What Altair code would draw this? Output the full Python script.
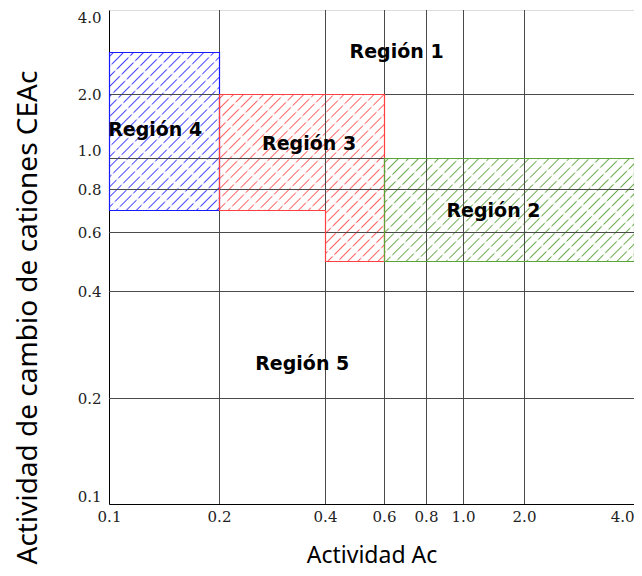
import math
import altair as alt
import numpy as np
import pandas as pd

# ---------------- data ----------------
x_ticks = [0.1, 0.2, 0.4, 0.6, 0.8, 1.0, 2.0, 4.0]
y_ticks = [0.1, 0.2, 0.4, 0.6, 0.8, 1.0, 2.0, 4.0]

# Región 4 (blue)
r4_x = [0.1, 0.2]
r4_top = [3.0, 3.0]
r4_bottom = [0.7, 0.7]
# Región 3 (red, stepped)
r3_x = [0.2, 0.4, 0.6]
r3_top = [2.0, 2.0, 2.0]
r3_bottom = [0.7, 0.5, 0.5]
# Región 2 (green)
r2_x = [0.6, 4.0]
r2_top = [1.0, 1.0]
r2_bottom = [0.5, 0.5]

label_names = ["Región 1", "Región 2", "Región 3", "Región 4", "Región 5"]
label_x = [0.66, 1.5, 0.37, 0.142, 0.357]
label_y = [3.0, 0.7, 1.22, 1.44, 0.264]

# ---------------- styling ----------------
W, H = 525, 494
X_RANGE = [0, 110, 216, 275, 317, 354, 415, 525]
Y_RANGE = [494, 388, 281, 222, 179, 148, 84, 0]

x_scale = alt.Scale(type="linear", domain=x_ticks, range=X_RANGE, nice=False, zero=False)
y_scale = alt.Scale(type="linear", domain=y_ticks, range=Y_RANGE, nice=False, zero=False)

x_axis = alt.Axis(
    values=x_ticks, format=".1f", title="Actividad Ac", grid=False, ticks=False, tickSize=0,
    labelFont="DejaVu Serif", labelFontSize=15, labelColor="#222222", labelPadding=5,
    labelAlign={"expr": "datum.value >= 4 ? 'right' : 'center'"}, labelOverlap=False,
    domainColor="black", titleFont="Noto Sans", titleFontSize=23, titleFontWeight="normal",
    titleColor="black", titleY=58, titleBaseline="alphabetic",
)
y_axis = alt.Axis(
    values=y_ticks, format=".1f", title="Actividad de cambio de cationes  CEAc", grid=False,
    ticks=False, tickSize=0, labelFont="DejaVu Serif", labelFontSize=15, labelColor="#222222",
    labelPadding=8, labelOverlap=False, domainColor="black",
    labelBaseline={"expr": "datum.value >= 4 ? 'top' : (datum.value <= 0.1 || datum.value == 1) ? 'bottom' : 'middle'"},
    titleFont="Noto Sans", titleFontSize=28, titleFontWeight="normal", titleColor="black",
    titleAngle=270, titleX=-73, titleY=307, titleAlign="center", titleBaseline="alphabetic",
)


def xenc(field):
    return alt.X(field, type="quantitative", scale=x_scale, axis=x_axis)


def yenc(field):
    return alt.Y(field, type="quantitative", scale=y_scale, axis=y_axis)


def px(v):
    return float(np.interp(v, x_ticks, X_RANGE))


def py(v):
    return float(np.interp(v, y_ticks, Y_RANGE))


def stripes(w, h, color, bg, period, lw, back=False):
    # soft-edged stripes: 3 stops per stripe, no coincident offsets
    diag = (w + h) / math.sqrt(2)
    s = (w * w + h * h)
    a = w * (w + h) / s
    b = h * (w + h) / s
    stops = [{"offset": 0, "color": bg}]
    o = period * 0.35 / diag
    while o + lw / diag < 1:
        stops += [
            {"offset": round(o, 5), "color": bg},
            {"offset": round(o + 0.5 * lw / diag, 5), "color": color},
            {"offset": round(o + lw / diag, 5), "color": bg},
        ]
        o += period / diag
    stops.append({"offset": 1, "color": bg})
    if back:
        return {"gradient": "linear", "x1": 0, "y1": 1, "x2": round(a, 4), "y2": round(1 - b, 4), "stops": stops}
    return {"gradient": "linear", "x1": 0, "y1": 0, "x2": round(a, 4), "y2": round(b, 4), "stops": stops}


def region_layers(xs, tops, bottoms, hatch_color, line_color):
    df = pd.DataFrame({"x": xs, "top": tops, "bottom": bottoms})
    w = px(max(xs)) - px(min(xs))
    h = py(min(bottoms)) - py(max(tops))
    enc = dict(x=xenc("x"), y=yenc("top"), y2="bottom")
    fill = alt.Chart(df).mark_area(
        interpolate="step-after", fill=stripes(w, h, hatch_color, "#ffffff", 7.1, 2.0)
    ).encode(**enc)
    gaps = alt.Chart(df).mark_area(
        interpolate="step-after",
        fill=stripes(w, h, "#ffffff", "rgba(255,255,255,0)", 19, 5.0, back=True)
    ).encode(**enc)
    outline = alt.Chart(df).mark_area(
        interpolate="step-after", fillOpacity=0, stroke=line_color, strokeWidth=1.2,
        xOffset=0.5, yOffset=0.5,
    ).encode(**enc)
    return [fill, gaps], outline


b_fill, b_out = region_layers(r4_x, r4_top, r4_bottom, "#4646ff", "#1a1aff")
r_fill, r_out = region_layers(r3_x, r3_top, r3_bottom, "#ff6464", "#ff4040")
g_fill, g_out = region_layers(r2_x, r2_top, r2_bottom, "#6dac52", "#5aa53a")

grid_x = alt.Chart(pd.DataFrame({"gx": x_ticks[1:-1]})).mark_rule(
    color="#4a4a4a", strokeWidth=1, xOffset=0.5
).encode(x=xenc("gx"))
grid_y = alt.Chart(pd.DataFrame({"gy": y_ticks[1:-1]})).mark_rule(
    color="#4a4a4a", strokeWidth=1, yOffset=0.5
).encode(y=yenc("gy"))

labels = alt.Chart(pd.DataFrame({"name": label_names, "lx": label_x, "ly": label_y})).mark_text(
    font="DejaVu Sans", fontWeight="bold", fontSize=19, color="black", align="center",
    baseline="middle",
).encode(x=xenc("lx"), y=yenc("ly"), text="name:N")

chart = alt.layer(
    *b_fill, *r_fill, *g_fill, grid_x, grid_y, b_out, r_out, g_out, labels
).properties(
    width=W, height=H,
    autosize=alt.AutoSizeParams(type="none"),
    padding={"left": 101, "top": 2, "right": 0, "bottom": 68},
).configure_view(stroke="black", strokeWidth=1).configure(background="white")

chart.save("out.html", embed_options={"renderer": "svg", "actions": False})
